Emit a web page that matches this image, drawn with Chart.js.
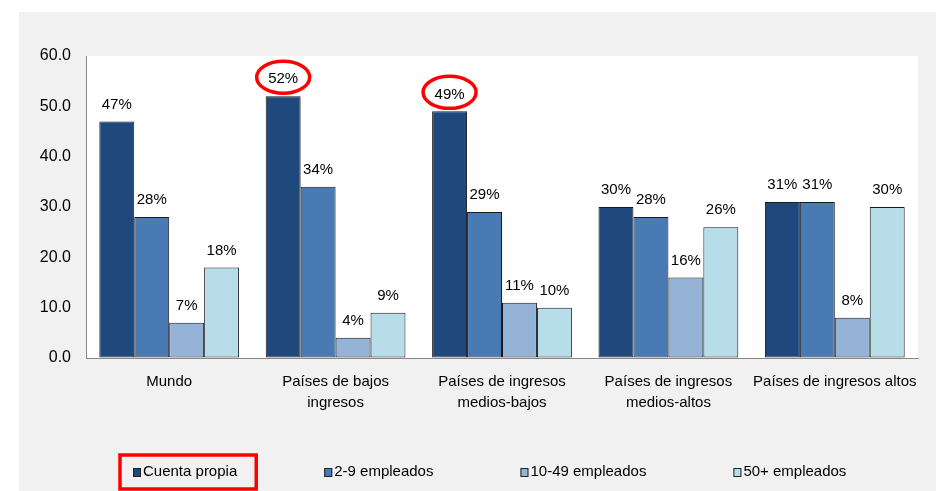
<!DOCTYPE html>
<html>
<head>
<meta charset="utf-8">
<script src="https://cdn.jsdelivr.net/npm/chart.js@4/dist/chart.umd.min.js"></script>
<style>
  html, body { margin: 0; padding: 0; background: #fff; overflow: hidden; }
  #panel { position: absolute; left: 19px; top: 12px; width: 917px; height: 479px; background: #f1f1f1; }
  #chart { position: absolute; left: 0; top: 0; }
</style>
</head>
<body>
<div id="panel"></div>
<canvas id="chart" width="936" height="491"></canvas>
<script>
// categories
const categories = [
    'Mundo',
    ['Países de bajos', 'ingresos'],
    ['Países de ingresos', 'medios-bajos'],
    ['Países de ingresos', 'medios-altos'],
    'Países de ingresos altos'
];
const seriesNames = ['Cuenta propia', '2-9 empleados', '10-49 empleados', '50+ empleados'];
// values in % per series
const cuentaPropia = [47, 52, 49, 30, 31];
const emp2a9 = [28, 34, 29, 28, 31];
const emp10a49 = [7, 4, 11, 16, 8];
const emp50mas = [18, 9, 10, 26, 30];
const yTicks = [0, 10, 20, 30, 40, 50, 60];

const colors = ['#1f497d', '#4a7ab4', '#95b3d7', '#b7dde8'];
const FONT = "'Liberation Sans', Arial, sans-serif";

// white plot area
const plotBg = {
    id: 'plotBg',
    beforeDraw(chart) {
        const a = chart.chartArea, ctx = chart.ctx;
        ctx.save();
        ctx.fillStyle = '#ffffff';
        ctx.fillRect(a.left, a.top, a.right - a.left, a.bottom - a.top);
        ctx.restore();
    }
};

// value labels + red ellipses on highlighted bars
const valueLabels = {
    id: 'valueLabels',
    afterDatasetsDraw(chart) {
        const ctx = chart.ctx;
        ctx.save();
        ctx.font = '15px ' + FONT;
        ctx.fillStyle = '#000';
        ctx.textAlign = 'center';
        ctx.textBaseline = 'middle';
        chart.data.datasets.forEach((ds, i) => {
            chart.getDatasetMeta(i).data.forEach((bar, j) => {
                ctx.fillText(ds.data[j] + '%', bar.x, bar.y - 17);
            });
        });
        // highlighted: first series, 2nd and 3rd groups
        const meta = chart.getDatasetMeta(0);
        ctx.strokeStyle = '#ff0000';
        ctx.lineWidth = 3.5;
        [1, 2].forEach(j => {
            const bar = meta.data[j];
            ctx.beginPath();
            ctx.ellipse(bar.x, bar.y - 19, 26.5, 16, 0, 0, Math.PI * 2);
            ctx.stroke();
        });
        ctx.restore();
    }
};

// legend at bottom
const bottomLegend = {
    id: 'bottomLegend',
    afterDraw(chart) {
        const ctx = chart.ctx;
        ctx.save();
        ctx.font = '15px ' + FONT;
        ctx.textBaseline = 'middle';
        ctx.textAlign = 'left';
        const y = 472;
        let x = 133;
        const gap = 87;
        seriesNames.forEach((name, i) => {
            ctx.fillStyle = colors[i];
            ctx.fillRect(x, y - 4, 8, 9);
            ctx.strokeStyle = '#222';
            ctx.lineWidth = 1;
            ctx.strokeRect(x + 0.5, y - 3.5, 7, 8);
            ctx.fillStyle = '#000';
            ctx.fillText(name, x + 10, y);
            const w = ctx.measureText(name).width;
            if (i === 0) {
                ctx.strokeStyle = '#ff0000';
                ctx.lineWidth = 3.5;
                ctx.strokeRect(x - 13, 455, w + 10 + 32, 34);
            }
            x += 10 + w + gap;
        });
        ctx.restore();
    }
};

new Chart(document.getElementById('chart'), {
    type: 'bar',
    data: {
        labels: categories,
        datasets: [cuentaPropia, emp2a9, emp10a49, emp50mas].map((d, i) => ({
            label: seriesNames[i],
            data: d,
            backgroundColor: colors[i],
            borderColor: '#1a1a1a',
            borderWidth: 1,
            borderSkipped: false,
            categoryPercentage: 0.84,
            barPercentage: 1
        }))
    },
    options: {
        responsive: false,
        animation: false,
        devicePixelRatio: 1,
        layout: { padding: { left: 0, right: 18, top: 56, bottom: 0 } },
        plugins: {
            legend: { display: false },
            tooltip: { enabled: false }
        },
        scales: {
            x: {
                grid: { display: true, drawOnChartArea: false, drawTicks: false, color: 'transparent' },
                border: { display: true, color: '#888', width: 1 },
                ticks: {
                    color: '#000',
                    font: { family: FONT, size: 15, lineHeight: 1.4 },
                    padding: 13,
                    maxRotation: 0,
                    autoSkip: false
                },
                afterFit(scale) { scale.height = 133; }
            },
            y: {
                min: 0,
                max: 60,
                grid: { display: true, drawOnChartArea: false, drawTicks: false, color: 'transparent' },
                border: { display: true, color: '#888', width: 1 },
                afterBuildTicks(scale) { scale.ticks = yTicks.map(v => ({ value: v })); },
                ticks: {
                    color: '#000',
                    font: { family: FONT, size: 16 },
                    padding: 15,
                    callback: v => v.toFixed(1)
                },
                afterFit(scale) { scale.width = 86; }
            }
        }
    },
    plugins: [plotBg, valueLabels, bottomLegend]
});
</script>
</body>
</html>
